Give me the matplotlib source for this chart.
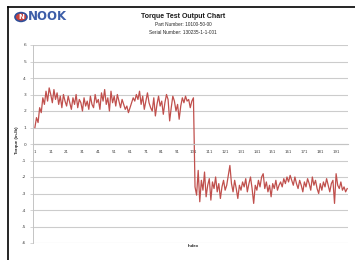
import numpy as np
import matplotlib
matplotlib.use("Agg")
import matplotlib.pyplot as plt
from matplotlib.lines import Line2D
from matplotlib.patches import Circle

# ---- data ----
high_segment = [1.0, 1.6, 1.3, 2.2, 1.9, 2.8, 2.4, 3.2, 2.6, 3.4, 3.0, 2.5, 3.3, 2.7, 3.1,
                2.4, 2.9, 2.2, 3.0, 2.6, 2.3, 2.9, 2.5, 2.1, 2.8, 2.4, 3.0, 2.2, 2.7, 2.5,
                2.0, 2.8, 2.3, 2.6, 2.1, 2.9, 2.4, 2.2, 3.0, 2.5, 2.7, 2.1, 3.1, 2.6, 3.3,
                2.4, 2.8, 2.0, 3.2, 2.5, 2.9, 2.3, 3.0, 2.6, 2.2, 2.7, 2.4, 2.1, 2.3, 1.9,
                2.2, 2.5, 2.8, 2.6, 3.0, 2.7, 3.2, 2.4, 2.9, 2.1, 2.6, 3.1, 2.5, 2.2, 2.0,
                2.8, 1.7, 2.4, 2.9, 2.3, 2.6, 1.8, 2.5, 3.0, 2.7, 1.4, 2.2, 2.9, 2.6, 2.0,
                2.4, 1.5, 2.3, 2.8, 2.5, 2.9, 2.6, 2.7, 2.2, 2.6, 2.8]
low_segment = [-2.6, -3.1, -1.6, -3.5, -2.2, -2.8, -1.7, -3.2, -2.5, -2.1, -3.4, -2.3, -2.7,
               -2.0, -2.9, -2.4, -3.3, -2.6, -2.2, -2.8, -2.5, -1.9, -1.3, -2.4, -2.9, -2.2,
               -2.7, -3.3, -2.5, -2.8, -2.3, -2.6, -2.1, -2.9, -2.4, -2.0, -2.7, -3.6, -2.5,
               -2.8, -2.2, -2.6, -2.0, -1.8, -2.7, -2.3, -2.9, -2.5, -3.2, -2.4, -2.7, -2.2,
               -2.8, -2.5, -2.3, -2.6, -2.1, -2.4, -2.0, -2.3, -1.9, -2.2, -2.5, -2.0, -2.4,
               -2.7, -2.2, -2.5, -2.9, -2.3, -2.6, -2.1, -2.4, -2.8, -2.0, -2.5, -2.2, -2.7,
               -3.0, -2.4, -2.8, -2.3, -2.6, -2.1, -2.5, -2.9, -2.4, -2.2, -3.6, -1.8, -2.5,
               -2.7, -2.3, -2.8, -2.6, -2.9, -2.7]
torque = high_segment + low_segment
y_ticks = [6, 5, 4, 3, 2, 1, 0, -1, -2, -3, -4, -5, -6]
label_step = 10

title = "Torque Test Output Chart"
part_line = "Part Number: 10100-50-00"
serial_line = "Serial Number: 130235-1-1-001"
y_title = "Torque (in-lb)"
x_title = "Index"

# ---- figure ----
fig = plt.figure(figsize=(3.55, 2.60), dpi=100)
fig.patch.set_facecolor("white")
W, H = 355.0, 260.0

def fx(px):
    return px / W

def fy(py):
    return 1 - py / H

ax = fig.add_axes([fx(33), fy(243), fx(348) - fx(33), (243 - 45) / H])
ax.spines["bottom"].set_position(("data", 0))
n = len(torque)
x = np.arange(n)
ax.plot(x, torque, color="#c0504d", lw=0.9, solid_joinstyle="round")

ax.set_ylim(-6, 6)
ax.set_xlim(-1.2, n - 0.5)
ax.set_yticks(y_ticks)
ax.set_yticklabels([str(v) for v in y_ticks])
ax.yaxis.grid(True, color="#cccccc", lw=0.8)
ax.set_axisbelow(True)

xt = list(range(0, n, label_step))
ax.set_xticks(xt)
ax.set_xticklabels([str(i + 1) for i in xt])
ax.spines["bottom"].set_color("#c4c4c4")
ax.spines["bottom"].set_linewidth(0.8)
ax.spines["left"].set_color("#c4c4c4")
ax.spines["left"].set_linewidth(0.7)
ax.spines["top"].set_visible(False)
ax.spines["right"].set_visible(False)
ax.tick_params(axis="y", length=2, width=0.5, color="#c4c4c4", pad=3,
               labelsize=3.2, labelcolor="#404040")
ax.tick_params(axis="x", length=0, pad=4, labelsize=2.8, labelcolor="#404040")

# titles
fig.text(fx(183), fy(17), title, ha="center", va="center", fontsize=5,
         fontweight="bold", family="Liberation Sans", color="#1a1a1a")
fig.text(fx(183), fy(25), part_line, ha="center", va="center", fontsize=3.4,
         family="Liberation Sans", color="#262626")
fig.text(fx(183), fy(32), serial_line, ha="center", va="center", fontsize=3.4,
         family="Liberation Sans", color="#262626")
fig.text(fx(17), fy(140), y_title, rotation=90, ha="center", va="center",
         fontsize=3.2, fontweight="bold", family="Liberation Sans", color="#262626")
fig.text(fx(193), fy(246), x_title, ha="center", va="center",
         fontsize=3.2, fontweight="bold", family="Liberation Sans", color="#262626")

# logo
fig.add_artist(Circle((fx(21), fy(17)), 6 / W, transform=fig.transFigure,
                      facecolor="#c8413c", edgecolor="#2f4f9a", lw=1.2))
fig.text(fx(21), fy(17), "N", ha="center", va="center", fontsize=5,
         fontweight="bold", color="white")
fig.text(fx(28), fy(17), "NOOK", ha="left", va="center", fontsize=8.5,
         fontweight="bold", family="DejaVu Sans", color="#3d5ea8")

# frame
fig.add_artist(Line2D([fx(8), 1], [fy(7), fy(7)], color="black", lw=1.2))
fig.add_artist(Line2D([fx(8), fx(8)], [0, fy(7)], color="black", lw=1.2))

fig.savefig("out.png", dpi=100, facecolor="white")
